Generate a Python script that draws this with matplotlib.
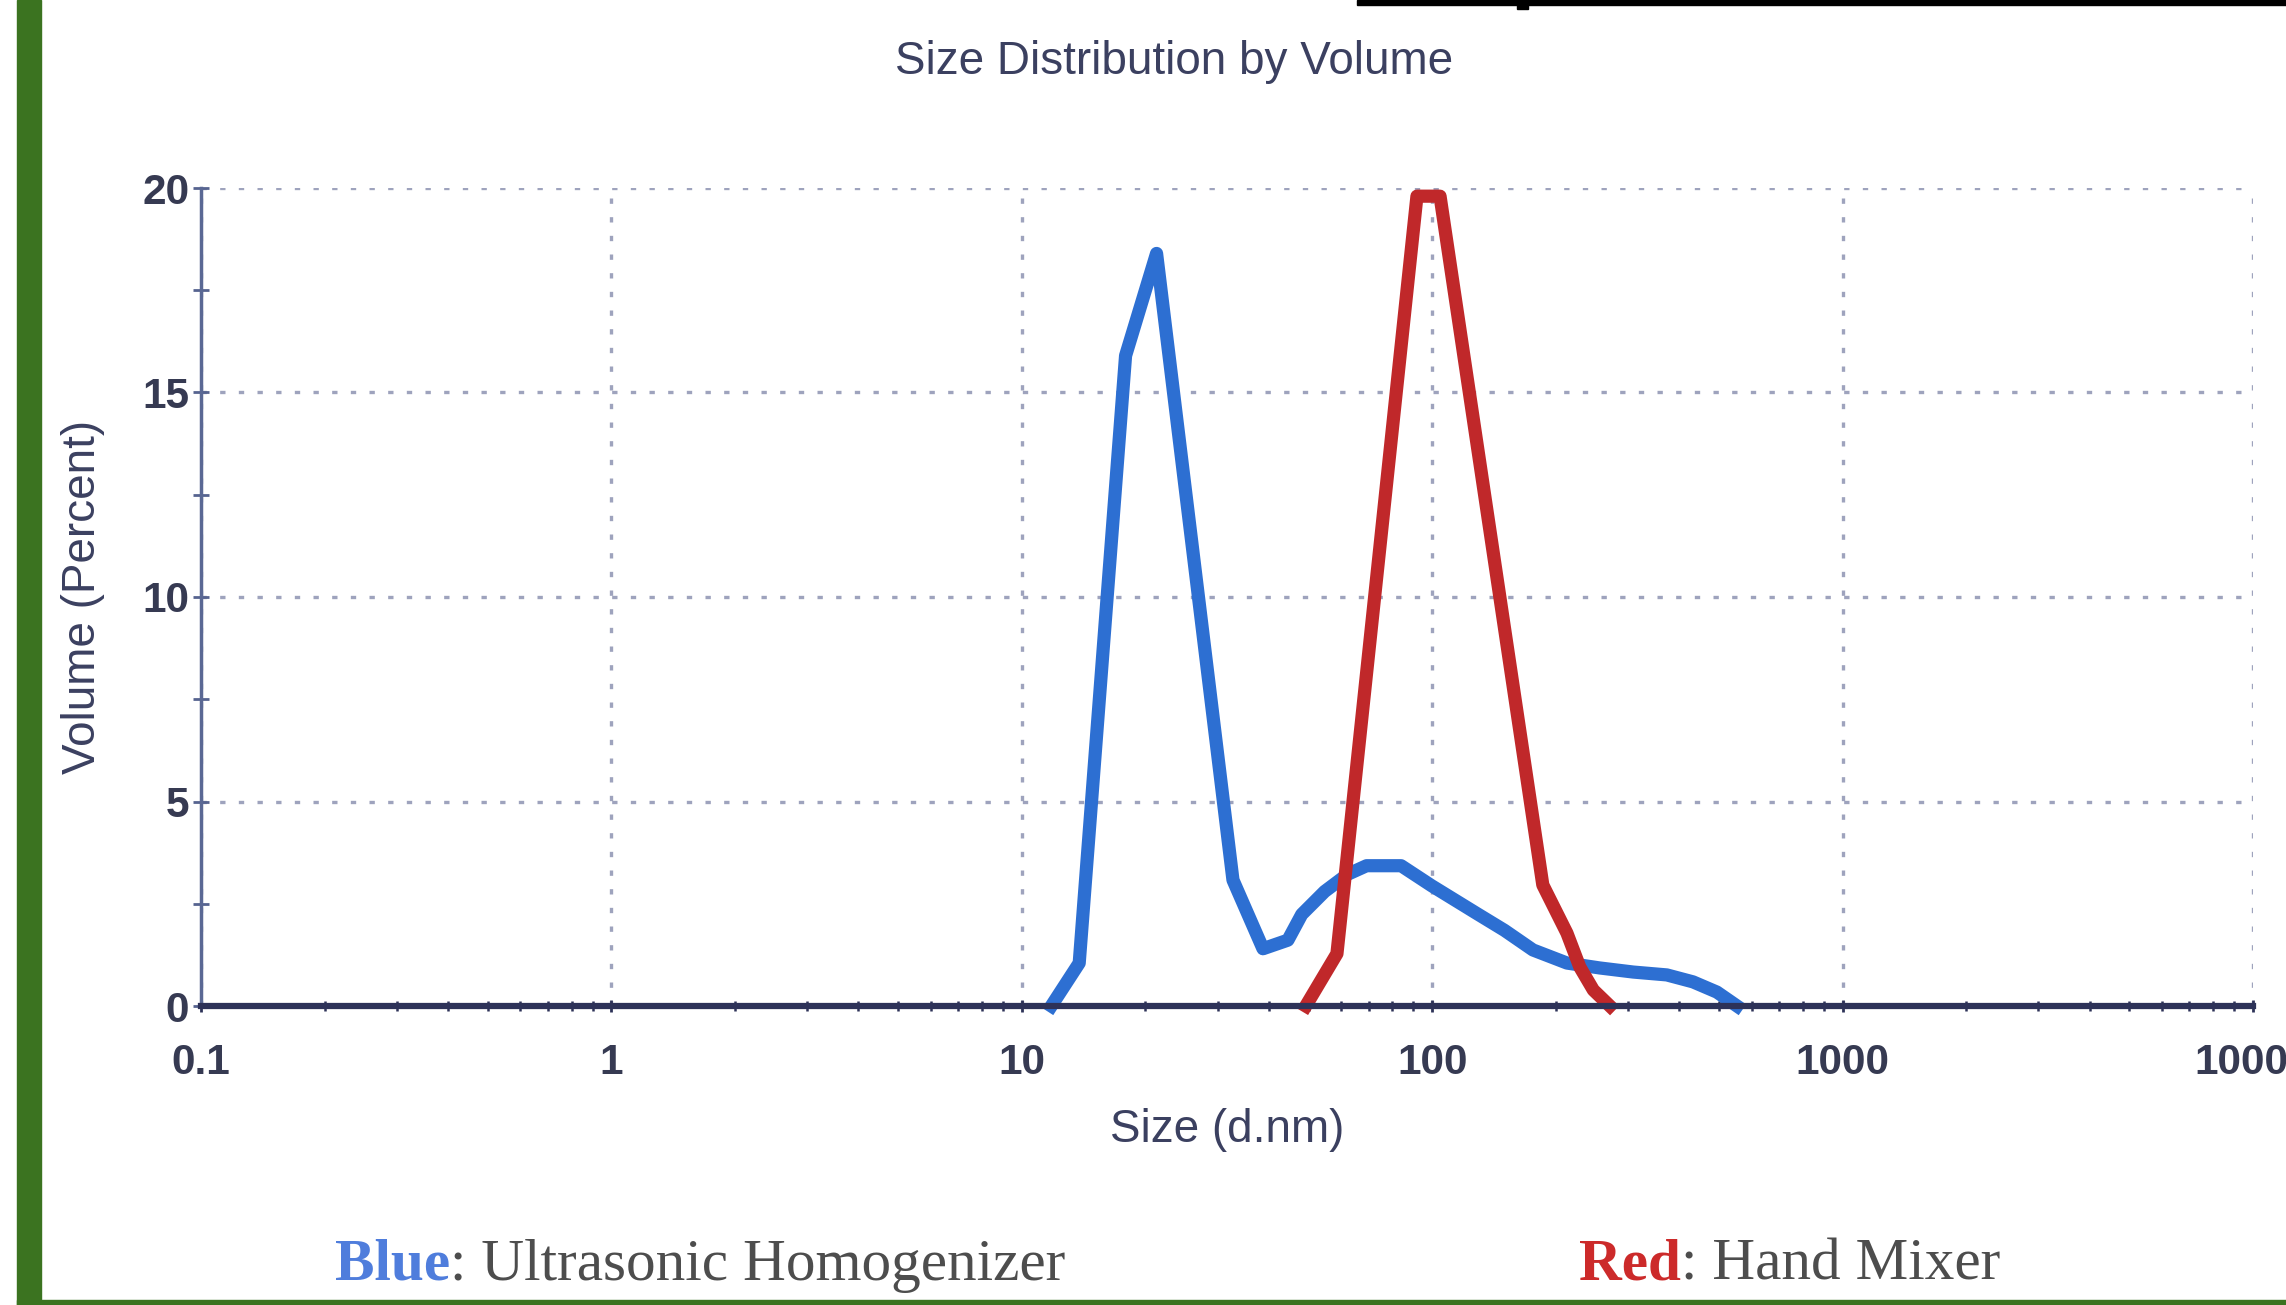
import numpy as np
import matplotlib.pyplot as plt
from matplotlib.patches import Rectangle
from matplotlib.ticker import LogLocator, NullFormatter, MultipleLocator

plt.rcParams['font.family'] = ['Liberation Sans', 'DejaVu Sans']

# curves (size in d.nm, volume in percent)
blue_size = [11.8, 13.8, 17.9, 21.3, 32.7, 38.7, 44.5, 48.1, 54.7, 62.2, 69.2, 84.0,
             99.7, 129, 150, 176, 213, 256, 309, 373, 432, 494, 553]
blue_vol = [0, 1.05, 15.9, 18.4, 3.08, 1.40, 1.61, 2.24, 2.80, 3.22, 3.43, 3.43,
            2.94, 2.25, 1.85, 1.37, 1.05, 0.93, 0.83, 0.76, 0.59, 0.34, 0]
red_size = [49.2, 58.6, 91.8, 104.5, 186, 213, 229, 247, 271]
red_vol = [0, 1.28, 19.8, 19.8, 2.96, 1.78, 0.95, 0.39, 0]

x_ticks = [0.1, 1, 10, 100, 1000, 10000]
x_tick_labels = ['0.1', '1', '10', '100', '1000', '10000']
y_ticks = [0, 5, 10, 15, 20]

W, H = 2286, 1305
fig = plt.figure(figsize=(W / 100, H / 100), dpi=100)
fig.patch.set_facecolor('white')

ax = fig.add_axes([201 / W, 1 - 1006 / H, 2052 / W, 818 / H])
ax.set_xscale('log')
ax.set_xlim(0.1, 10000)
ax.set_ylim(0, 20)

ax.plot(blue_size, blue_vol, color='#2d6fd2', lw=9.5, clip_on=False, solid_joinstyle='round')
ax.plot(red_size, red_vol, color='#c0282a', lw=9.5, clip_on=False, solid_joinstyle='round')

ax.set_xticks(x_ticks)
ax.set_xticklabels(x_tick_labels)
ax.xaxis.set_minor_locator(LogLocator(base=10, subs=np.arange(2, 10), numticks=30))
ax.xaxis.set_minor_formatter(NullFormatter())
ax.set_yticks(y_ticks)
ax.yaxis.set_minor_locator(MultipleLocator(2.5))

tick_col = '#363a52'
ax.tick_params(axis='x', which='major', direction='inout', length=9, width=2,
               color='#2d3258', labelsize=30.5, pad=22, labelcolor=tick_col)
ax.tick_params(axis='x', which='minor', direction='inout', length=7, width=1.8,
               color='#2d3258')
ax.tick_params(axis='y', which='both', direction='inout', length=11, width=2,
               color='#56638f', labelsize=30.5, pad=3, labelcolor=tick_col)
for lbl in ax.get_xticklabels() + ax.get_yticklabels():
    lbl.set_fontweight('bold')

ax.grid(True, which='major', color='#9ea3bd', linestyle=(0, (1.6, 4)), linewidth=2.4)

for s in ['top', 'right']:
    ax.spines[s].set_visible(False)
ax.spines['left'].set_color('#5a6894')
ax.spines['left'].set_linewidth(2.5)
ax.spines['bottom'].set_color('#2d3258')
ax.spines['bottom'].set_linewidth(4.5)

lab_col = '#3b4060'
ax.set_xlabel('Size (d.nm)', fontsize=33, color=lab_col)
ax.xaxis.set_label_coords(0.5, -0.125)
ax.set_ylabel('Volume (Percent)', fontsize=33, color=lab_col)
ax.yaxis.set_label_coords(-0.047, 0.5)

fig.text(1174 / W, 1 - 62 / H, 'Size Distribution by Volume', ha='center', va='center',
         fontsize=33, color=lab_col)

# captions under the chart: coloured bold word, then plain text
renderer = fig.canvas.get_renderer()


def caption(x, word, word_color, rest):
    t = fig.text(x / W, 1 - 1280 / H, word, fontsize=42.7, fontweight='bold',
                 color=word_color, family='Liberation Serif', va='baseline')
    bb = t.get_window_extent(renderer)
    fig.text(bb.x1 / W, 1 - 1280 / H, rest, fontsize=42.7, color='#4d4d4d',
             family='Liberation Serif', va='baseline')


caption(335, 'Blue', '#4f7ddc', ': Ultrasonic Homogenizer')
caption(1579, 'Red', '#cc2a2a', ': Hand Mixer')

# frame pieces of the screenshot
green = '#3b7320'
fig.patches.append(Rectangle((17 / W, 0), 24 / W, 1, transform=fig.transFigure, color=green))
fig.patches.append(Rectangle((17 / W, 0), 1, 5 / H, transform=fig.transFigure, color=green))
fig.patches.append(Rectangle((1357 / W, 1 - 5 / H), 1, 5 / H, transform=fig.transFigure, color='black'))
fig.patches.append(Rectangle((1517 / W, 1 - 9 / H), 11 / W, 9 / H, transform=fig.transFigure, color='black'))

fig.savefig('out.png', dpi=100)
